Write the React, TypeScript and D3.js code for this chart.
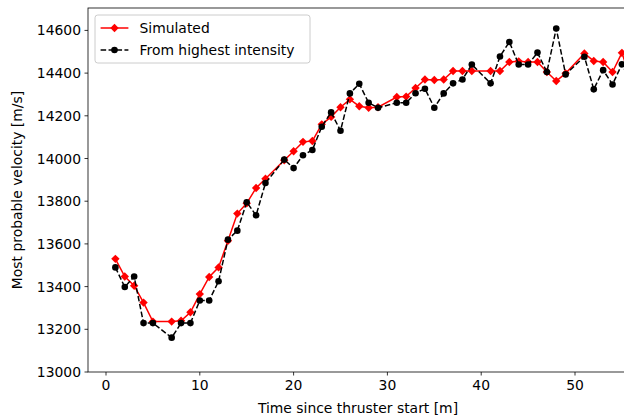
import React from "react";
import * as d3 from "d3";

const times = [1,2,3,4,5,7,8,9,10,11,12,13,14,15,16,17,19,20,21,22,23,24,25,26,27,28,29,31,32,33,34,35,36,37,38,39,41,42,43,44,45,46,47,48,49,51,52,53,54,55,56];
const simulated = [13530,13447,13404,13325,13236,13236,13240,13280,13365,13445,13490,13615,13742,13790,13862,13905,13992,14034,14078,14082,14160,14195,14240,14277,14245,14238,14240,14288,14290,14330,14370,14368,14370,14410,14410,14410,14410,14410,14452,14455,14452,14452,14405,14363,14399,14492,14457,14452,14405,14495,14363];
const fromIntensity = [13490,13398,13447,13229,13229,13161,13229,13229,13335,13335,13425,13620,13662,13795,13734,13885,13995,13955,14015,14040,14149,14216,14130,14305,14350,14261,14238,14261,14261,14306,14327,14238,14305,14352,14370,14440,14352,14478,14546,14440,14440,14496,14405,14609,14394,14477,14324,14414,14347,14441,14360];
const xTicks = [0,10,20,30,40,50];
const yTicks = [13000,13200,13400,13600,13800,14000,14200,14400,14600];
const seriesNames = ["Simulated", "From highest intensity"];

const W = 700, H = 415;
const L = 88, R = 628, T = 8, B = 372;
const FONT = "DejaVu Sans, sans-serif";
const FS = 13.9;

export default function App() {
  const x = d3.scaleLinear().domain([-1.92, 55.65]).range([L, R]);
  const y = d3.scaleLinear().domain([13000, 14705]).range([B, T]);
  const simPts = times.map((t, i) => [t, simulated[i]] as [number, number]);
  const intPts = times.map((t, i) => [t, fromIntensity[i]] as [number, number]);
  const line = d3.line<[number, number]>().x(d => x(d[0])).y(d => y(d[1]));
  const diamond = (cx: number, cy: number, r: number) =>
    `M${cx},${cy - r}L${cx + r},${cy}L${cx},${cy + r}L${cx - r},${cy}Z`;

  const legX = 95, legY = 15, legW = 215, legH = 48;
  const row1 = 28, row2 = 50;
  const hx0 = legX + 5.6, hx1 = hx0 + 27.8;

  return (
    <svg width={W} height={H} style={{ position: "absolute", left: 0, top: 0, display: "block" }}
      fontFamily={FONT} fontSize={FS}>
      <rect x={0} y={0} width={W} height={H} fill="#fff" />
      <defs>
        <clipPath id="ax">
          <rect x={L} y={T} width={R - L} height={B - T} />
        </clipPath>
      </defs>
      <g clipPath="url(#ax)">
        <path d={line(simPts) || ""} fill="none" stroke="#ff0000" strokeWidth={1.5} />
        {simPts.map((p, i) => (
          <path key={"s" + i} d={diamond(x(p[0]), y(p[1]), 4.2)} fill="#ff0000" />
        ))}
        <path d={line(intPts) || ""} fill="none" stroke="#000" strokeWidth={1.5} strokeDasharray="5.55,2.4" />
        {intPts.map((p, i) => (
          <circle key={"b" + i} cx={x(p[0])} cy={y(p[1])} r={3.3} fill="#000" />
        ))}
      </g>
      <rect x={L} y={T} width={R - L} height={B - T} fill="none" stroke="#000" strokeWidth={0.8} />
      {xTicks.map(t => (
        <g key={"xt" + t}>
          <line x1={x(t)} x2={x(t)} y1={B} y2={B + 3.5} stroke="#000" strokeWidth={0.8} />
          <text x={x(t)} y={B + 7 + FS * 0.76} textAnchor="middle" fill="#000">{t}</text>
        </g>
      ))}
      {yTicks.map(t => (
        <g key={"yt" + t}>
          <line x1={L - 3.5} x2={L} y1={y(t)} y2={y(t)} stroke="#000" strokeWidth={0.8} />
          <text x={L - 7} y={y(t) + FS * 0.36} textAnchor="end" fill="#000">{t}</text>
        </g>
      ))}
      <text x={358} y={413} textAnchor="middle" fill="#000">Time since thruster start [m]</text>
      <text transform={`translate(22,${(T + B) / 2}) rotate(-90)`} textAnchor="middle" fill="#000">
        Most probable velocity [m/s]
      </text>
      <rect x={legX} y={legY} width={legW} height={legH} rx={2.8} fill="#fff" fillOpacity={0.8}
        stroke="#cccccc" strokeWidth={1} />
      <line x1={hx0} x2={hx1} y1={row1} y2={row1} stroke="#ff0000" strokeWidth={1.5} />
      <path d={diamond((hx0 + hx1) / 2, row1, 4.2)} fill="#ff0000" />
      <text x={hx1 + 11.1} y={row1 + FS * 0.36} fill="#000">{seriesNames[0]}</text>
      <line x1={hx0} x2={hx1} y1={row2} y2={row2} stroke="#000" strokeWidth={1.5} strokeDasharray="5.55,2.4" />
      <circle cx={(hx0 + hx1) / 2} cy={row2} r={3.3} fill="#000" />
      <text x={hx1 + 11.1} y={row2 + FS * 0.36} fill="#000">{seriesNames[1]}</text>
    </svg>
  );
}
